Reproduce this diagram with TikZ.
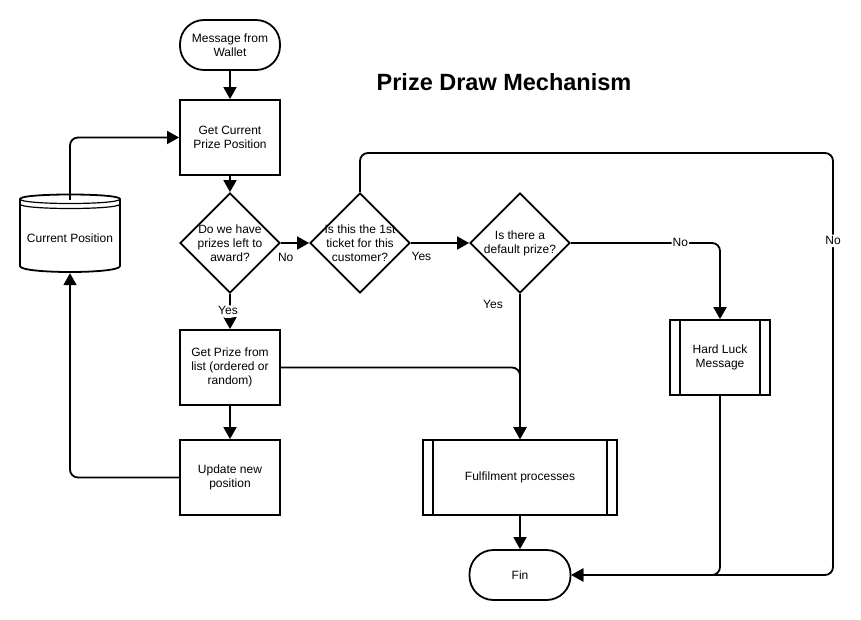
\documentclass[tikz,border=0pt]{standalone}
\usepackage{fontspec}
\setmainfont{Liberation Sans}
\usetikzlibrary{shapes.geometric,arrows.meta}
\begin{document}
\begin{tikzpicture}[x=1pt,y=-1pt,
  every node/.style={font=\fontsize{12}{14}\selectfont, align=center},
  base/.style={draw=black, line width=1.8pt, inner sep=0pt},
  box/.style={base, rectangle, minimum width=100pt, minimum height=75pt},
  term/.style={base, rectangle, rounded corners=24pt, minimum width=100pt, minimum height=50pt},
  dec/.style={base, diamond, minimum width=100pt, minimum height=100pt},
  proc/.style={box, path picture={
      \draw[line width=1.8pt]
        ([xshift=10pt]path picture bounding box.north west) -- ([xshift=10pt]path picture bounding box.south west)
        ([xshift=-10pt]path picture bounding box.north east) -- ([xshift=-10pt]path picture bounding box.south east);}},
  arr/.style={line width=1.8pt, -{Triangle[length=12pt,width=13pt]}, rounded corners=8pt},
  lbl/.style={inner sep=1pt, text height=8.5pt, text depth=2pt},
  lblw/.style={lbl, fill=white}
]
\fill[white] (0,0) rectangle (861,620);
\useasboundingbox (0,0) rectangle (861,620);

\node[font=\fontsize{23.5}{28}\selectfont\bfseries] (title) at (504,82) {Prize Draw Mechanism};

\node[term] (msg) at (230,45) {Message from\\Wallet};
\node[box] (gcp) at (230,137.5) {Get Current\\Prize Position};
\node[dec, label={center:Do we have\\prizes left to\\award?}] (d1) at (230,243) {};
\node[dec, label={center:Is this the 1st\\ticket for this\\customer?}] (d2) at (360,243) {};
\node[dec, label={center:Is there a\\default prize?}] (d3) at (520,243) {};
\node[box] (gp) at (230,367.5) {Get Prize from\\list (ordered or\\random)};
\node[box] (upd) at (230,477.5) {Update new\\position};
\node[proc, minimum width=194pt] (ful) at (520,477.5) {Fulfilment processes};
\node[proc] (hl) at (720,357.5) {Hard Luck\\Message};
\node[term, minimum width=101pt] (fin) at (520,575) {Fin};

% cylinder (data store)
\node[minimum width=100pt, minimum height=81pt, inner sep=0pt,
      label={[yshift=-5.5pt]center:Current Position}] (cp) at (70,232.5) {};
\draw[line width=1.8pt, line join=round]
  (20,199) .. controls (20,193) and (120,193) .. (120,199)
  -- (120,266) .. controls (120,274) and (20,274) .. (20,266) -- cycle;
\draw[line width=1.2pt]
  (20,199) .. controls (20,205) and (120,205) .. (120,199)
  (20,204) .. controls (20,210) and (120,210) .. (120,204);

% connectors
\draw[arr] (msg) -- (gcp);
\draw[arr] (gcp) -- (d1);
\draw[arr] (d1.east) -- node[lbl, pos=0.17, yshift=-15pt] {No} (d2.west);
\draw[arr] (d2.east) -- node[lbl, pos=0.18, yshift=-14pt] {Yes} (d3.west);
\draw[arr] (d1.south) -- node[lblw, pos=0.5, xshift=-2pt] {Yes} (gp.north);
\draw[arr] (d3.south) -- node[lbl, pos=0.075, xshift=-27pt] {Yes} (ful.north);
\draw[arr] (gp.east) -| (ful.north);
\draw[arr] (d3.east) -| node[lblw, pos=0.367] {No} (hl.north);
\coordinate (rr) at (833,153);
\draw[arr] (d2.north) |- (rr) |- node[lblw, pos=0.104] {No} (fin.east);
\draw[arr] (hl.south) |- (fin.east);
\draw[arr] (gp) -- (upd);
\draw[arr] (ful) -- (fin);
\draw[arr] (upd.west) -| (cp.south);
\draw[arr] ([yshift=-8pt]cp.north) |- (gcp.west);
\end{tikzpicture}
\end{document}
